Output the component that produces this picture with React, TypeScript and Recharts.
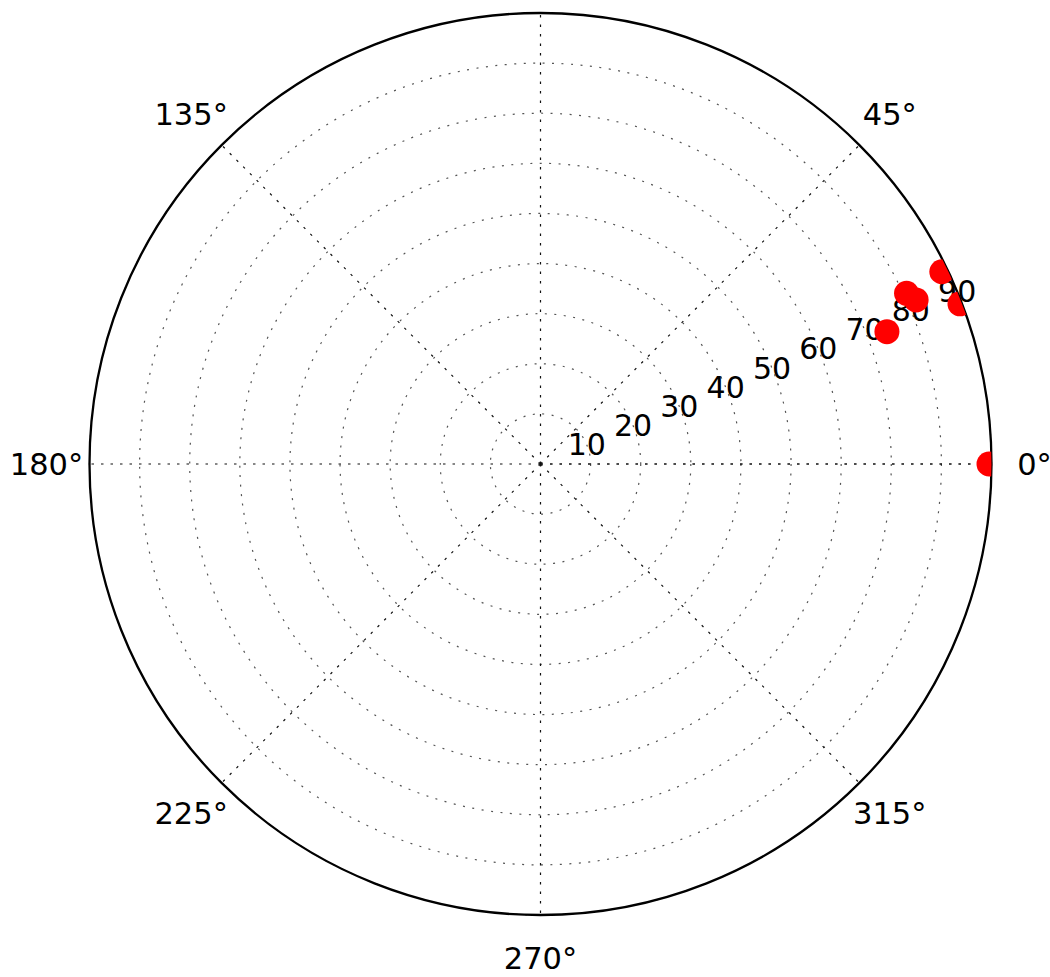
import { RadarChart, Radar, PolarGrid, PolarAngleAxis, PolarRadiusAxis } from 'recharts';

// point positions (angle in degrees, radius in data units)
const pointAngles = [0, 25.6, 20.9, 25.0, 23.6, 20.9];
const pointRadii = [89.5, 88.8, 89.6, 80.6, 81.8, 74.0];

const radiusDomain = [0, 90];
const angleDomain = [0, 360];

const data = pointAngles.map((a, i) => ({ angle: a, r: pointRadii[i] }));

const W = 1050;
const H = 977;
const CX = 540.5;
const CY = 464;
const R = 451;
const FONT = '"DejaVu Sans", sans-serif';

const AngleTick = (props: any) => {
  const v = props.payload?.value;
  // 360 sits on 0, and 90 falls above the top edge
  if (v === 360 || v === 90) return <g />;
  return (
    <text x={props.x} y={props.y} textAnchor="middle" dominantBaseline="central"
      fontSize={30.5} fontFamily={FONT} fill="#000">{`${v}°`}</text>
  );
};

const RadiusTick = (props: any) => {
  const v = props.payload?.value;
  if (!v) return <g />;
  return (
    <text x={props.x} y={props.y} textAnchor="middle" dominantBaseline="central"
      fontSize={30} fontFamily={FONT} fill="#000">{v}</text>
  );
};

const RedDot = (props: any) => (
  <circle key={props.key ?? props.index} cx={props.cx} cy={props.cy} r={12.5} fill="#ff0000" stroke="none" clipPath="url(#polarClip)" />
);

export default function App() {
  return (
    <div style={{ position: 'absolute', left: 0, top: 0, width: W, height: H, background: '#fff' }}>
      <RadarChart width={W} height={H} data={data} cx={CX} cy={CY} outerRadius={R}
        startAngle={0} endAngle={360} margin={{ top: 0, right: 0, bottom: 0, left: 0 }}>
        <defs>
          <clipPath id="polarClip">
            <circle cx={CX} cy={CY} r={R} />
          </clipPath>
        </defs>
        <PolarGrid gridType="circle" radialLines={false} stroke="#555" strokeWidth={1.2} strokeDasharray="2 7.5" />
        <PolarGrid gridType="circle" polarRadius={[]} stroke="#111" strokeWidth={1.2} strokeDasharray="2.5 7" />
        <PolarRadiusAxis type="number" scale="linear" domain={radiusDomain} tickCount={10} angle={22.5}
          axisLine={false} tickLine={false} tick={RadiusTick} />
        <Radar dataKey="r" stroke="none" fill="none" fillOpacity={0} dot={RedDot} isAnimationActive={false} />
        <PolarAngleAxis dataKey="angle" type="number" scale="linear" domain={angleDomain} tickCount={9}
          axisLineType="circle" axisLine={{ stroke: '#000', strokeWidth: 2.3 }} stroke="#000"
          tickLine={false} tickSize={43} tick={AngleTick} />
      </RadarChart>
    </div>
  );
}
